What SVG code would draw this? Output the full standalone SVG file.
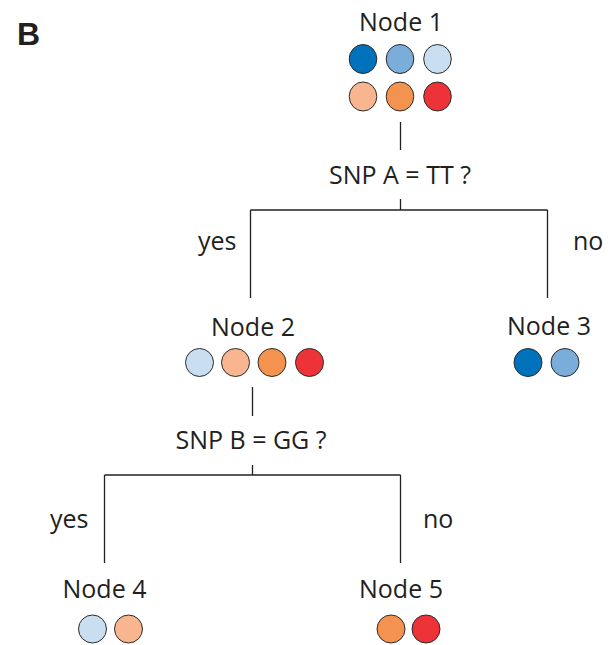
<svg xmlns="http://www.w3.org/2000/svg" width="610" height="645" viewBox="0 0 610 645">
<style>
text{font-family:"Open Sans","Liberation Sans",sans-serif;fill:#231F20;font-size:25px;text-anchor:middle}
.lbl{text-anchor:start}
.c{stroke:#2b2b2b;stroke-width:1}
.b1{fill:#0072BC}.b2{fill:#7AADDA}.b3{fill:#C9DEF0}
.o1{fill:#F9B58F}.o2{fill:#F4924F}.r{fill:#EE3338}
#connectors line{stroke:#231F20;stroke-width:1.3;fill:none}
</style>
<rect width="610" height="645" fill="#fff"/>
<text x="17" y="45" class="lbl" style="font-family:'Liberation Sans',Arial,sans-serif;font-weight:bold;font-size:32px">B</text>
<g id="connectors">
<line x1="400.5" y1="122" x2="400.5" y2="150"/>
<line x1="400.5" y1="199" x2="400.5" y2="210"/>
<line x1="250.5" y1="210" x2="547.5" y2="210"/>
<line x1="250.5" y1="210" x2="250.5" y2="298"/>
<line x1="547.5" y1="210" x2="547.5" y2="298"/>
<line x1="252.5" y1="387" x2="252.5" y2="416"/>
<line x1="252.5" y1="465" x2="252.5" y2="475"/>
<line x1="104.5" y1="475" x2="400.5" y2="475"/>
<line x1="104.5" y1="475" x2="104.5" y2="563"/>
<line x1="400.5" y1="475" x2="400.5" y2="563"/>
</g>
<g id="q1"><text x="400" y="184">SNP A = TT ?</text></g>
<g id="q2"><text x="251" y="449">SNP B = GG ?</text></g>
<g id="labels">
<text x="198" y="250" class="lbl">yes</text>
<text x="573" y="250" class="lbl">no</text>
<text x="50" y="528" class="lbl">yes</text>
<text x="423" y="528" class="lbl">no</text>
</g>
<g id="node1">
<text x="401" y="31">Node 1</text>
<ellipse class="c b1" cx="363" cy="59" rx="13.8" ry="14.5"/>
<ellipse class="c b2" cx="400" cy="59" rx="13.8" ry="14.5"/>
<ellipse class="c b3" cx="437.5" cy="59" rx="13.8" ry="14.5"/>
<ellipse class="c o1" cx="363" cy="96.5" rx="13.8" ry="14.5"/>
<ellipse class="c o2" cx="400" cy="96.5" rx="13.8" ry="14.5"/>
<ellipse class="c r" cx="437.5" cy="96.5" rx="13.8" ry="14.5"/>
</g>
<g id="node2">
<text x="253" y="336">Node 2</text>
<circle class="c b3" cx="199.5" cy="362.5" r="14"/>
<circle class="c o1" cx="235.5" cy="362.5" r="14"/>
<circle class="c o2" cx="272" cy="362.5" r="14"/>
<circle class="c r" cx="309.5" cy="362.5" r="14"/>
</g>
<g id="node3">
<text x="549" y="335">Node 3</text>
<circle class="c b1" cx="528" cy="362.5" r="14"/>
<circle class="c b2" cx="565" cy="362.5" r="14"/>
</g>
<g id="node4">
<text x="104.5" y="598">Node 4</text>
<circle class="c b3" cx="92.5" cy="629" r="14"/>
<circle class="c o1" cx="128.5" cy="629" r="14"/>
</g>
<g id="node5">
<text x="401" y="598">Node 5</text>
<circle class="c o2" cx="391" cy="629" r="14"/>
<circle class="c r" cx="426" cy="629" r="14"/>
</g>
</svg>
